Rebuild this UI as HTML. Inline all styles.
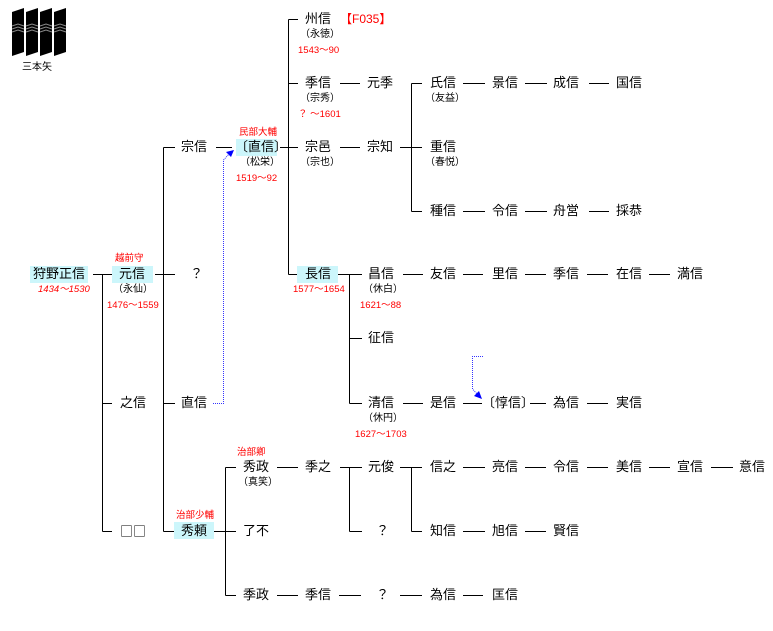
<!DOCTYPE html>
<html><head><meta charset="utf-8"><style>
body{margin:0;background:#fff;width:773px;height:631px;position:relative;overflow:hidden;font-family:"Liberation Sans","Noto Sans CJK JP",sans-serif;}
.t{position:absolute;font-size:13px;line-height:16px;color:#000;white-space:nowrap;}
.s{position:absolute;font-size:10px;line-height:12px;color:#000;white-space:nowrap;}
.r{position:absolute;font-size:9.5px;line-height:12px;color:#f00;white-space:nowrap;}
.h{position:absolute;background:#ccf6fb;}
svg{position:absolute;left:0;top:0;}
</style></head><body>
<div class="h" style="left:30px;top:266px;width:58px;height:17px"></div>
<div class="h" style="left:112px;top:266px;width:41px;height:17px"></div>
<div class="h" style="left:236px;top:139px;width:41px;height:17px"></div>
<div class="h" style="left:297px;top:266px;width:41px;height:17px"></div>
<div class="h" style="left:174px;top:522px;width:40px;height:17px"></div>
<svg width="773" height="631">
<g fill="#000">
<polygon points="12,12 24,8 24,52 12,56"/><polygon points="26,12 38,8 38,52 26,56"/><polygon points="40,12 52,8 52,52 40,56"/><polygon points="54,12 66,8 66,52 54,56"/>
</g>
<g stroke="#888" stroke-width="1" fill="none">
<polyline points="12,26 18,24 24,26"/><polyline points="12,29 18,27 24,29"/><polyline points="12,32 18,30 24,32"/>
<polyline points="26,26 32,24 38,26"/><polyline points="26,29 32,27 38,29"/><polyline points="26,32 32,30 38,32"/>
<polyline points="40,26 46,24 52,26"/><polyline points="40,29 46,27 52,29"/><polyline points="40,32 46,30 52,32"/>
<polyline points="54,26 60,24 66,26"/><polyline points="54,29 60,27 66,29"/><polyline points="54,32 60,30 66,32"/>
</g>
<g stroke="#000" stroke-width="1" fill="none" shape-rendering="crispEdges">
<path d="M93,274.5H112M102.5,274.5V531.5M102.5,403.5H112M102.5,531.5H112"/>
<path d="M155,274.5H175M163.5,147.5V531.5M163.5,147.5H175M163.5,403.5H175M163.5,531.5H174"/>
<path d="M216,147.5H232"/>
<path d="M280,147.5H298M288.5,19.5V274.5M288.5,19.5H298M288.5,83.5H298M288.5,274.5H297"/>
<path d="M340,83.5H360M340,147.5H360"/>
<path d="M400,147.5H422M411.5,83.5V211.5M411.5,83.5H422M411.5,211.5H422"/>
<path d="M463,83.5H485M525,83.5H547M589,83.5H609"/>
<path d="M463,211.5H485M525,211.5H547M589,211.5H609"/>
<path d="M338,274.5H362M349.5,274.5V403.5M349.5,338.5H362M349.5,403.5H362"/>
<path d="M403,274.5H423M463,274.5H483M525,274.5H546M587,274.5H608M649,274.5H670"/>
<path d="M403,403.5H423M463,403.5H482M530,403.5H546M587,403.5H608"/>
<path d="M214,531.5H236M225.5,467.5V595.5M225.5,467.5H236M225.5,595.5H236"/>
<path d="M277,467.5H298M340,467.5H349.5M349.5,467.5V531.5M349.5,467.5H362M349.5,531.5H362"/>
<path d="M400,467.5H411.5M411.5,467.5V531.5M411.5,467.5H422M411.5,531.5H422"/>
<path d="M463,467.5H485M525,467.5H546M587,467.5H608M649,467.5H670M711,467.5H733"/>
<path d="M463,531.5H485M525,531.5H546"/>
<path d="M277,595.5H298M339,595.5H361M400,595.5H422M463,595.5H483"/>
</g>
<g stroke="#33f" stroke-width="1" fill="none" stroke-dasharray="1,1">
<path d="M213,403.5H223.5V160L230,153"/>
<path d="M483,356.5H472.5V389L478,395"/>
</g>
<polygon points="234,150 226,152 231,157" fill="#00f"/>
<polygon points="482,399 474,396 479,391" fill="#00f"/>
</svg>
<div class="s" style="left:22px;top:62px">三本矢</div>
<div class="t" style="left:33px;top:266px">狩野正信</div>
<div class="r" style="left:38px;top:284px;font-style:italic">1434〜1530</div>
<div class="r" style="left:115px;top:253px">越前守</div>
<div class="t" style="left:119px;top:266px">元信</div>
<div class="s" style="left:113px;top:284px">（永仙）</div>
<div class="r" style="left:107px;top:300px">1476〜1559</div>
<div class="t" style="left:120px;top:395px">之信</div>
<div class="t" style="left:120px;top:523px;font-family:'Noto Sans CJK JP',sans-serif">□□</div>
<div class="t" style="left:181px;top:139px">宗信</div>
<div class="t" style="left:190px;top:266px">？</div>
<div class="t" style="left:181px;top:395px">直信</div>
<div class="r" style="left:176px;top:510px">治部少輔</div>
<div class="t" style="left:181px;top:523px">秀頼</div>
<div class="r" style="left:239px;top:127px">民部大輔</div>
<div class="t" style="left:235px;top:139px">〔直信〕</div>
<div class="s" style="left:240px;top:157px">（松栄）</div>
<div class="r" style="left:236px;top:173px">1519〜92</div>
<div class="t" style="left:305px;top:11px">州信</div>
<div class="r" style="left:340px;top:12px;font-size:12px;line-height:14px">【F035】</div>
<div class="s" style="left:300px;top:29px">（永徳）</div>
<div class="r" style="left:298px;top:45px">1543〜90</div>
<div class="t" style="left:305px;top:75px">季信</div>
<div class="s" style="left:300px;top:93px">（宗秀）</div>
<div class="r" style="left:298px;top:109px">？ 〜1601</div>
<div class="t" style="left:305px;top:139px">宗邑</div>
<div class="s" style="left:300px;top:157px">（宗也）</div>
<div class="t" style="left:305px;top:266px">長信</div>
<div class="r" style="left:293px;top:284px">1577〜1654</div>
<div class="t" style="left:367px;top:75px">元季</div>
<div class="t" style="left:367px;top:139px">宗知</div>
<div class="t" style="left:430px;top:75px">氏信</div>
<div class="s" style="left:425px;top:93px">（友益）</div>
<div class="t" style="left:430px;top:139px">重信</div>
<div class="s" style="left:425px;top:157px">（春悦）</div>
<div class="t" style="left:430px;top:203px">種信</div>
<div class="t" style="left:492px;top:75px">景信</div>
<div class="t" style="left:553px;top:75px">成信</div>
<div class="t" style="left:616px;top:75px">国信</div>
<div class="t" style="left:492px;top:203px">令信</div>
<div class="t" style="left:553px;top:203px">舟営</div>
<div class="t" style="left:616px;top:203px">採恭</div>
<div class="t" style="left:368px;top:266px">昌信</div>
<div class="s" style="left:363px;top:284px">（休白）</div>
<div class="r" style="left:360px;top:300px">1621〜88</div>
<div class="t" style="left:430px;top:266px">友信</div>
<div class="t" style="left:492px;top:266px">里信</div>
<div class="t" style="left:553px;top:266px">季信</div>
<div class="t" style="left:616px;top:266px">在信</div>
<div class="t" style="left:677px;top:266px">満信</div>
<div class="t" style="left:368px;top:330px">征信</div>
<div class="t" style="left:368px;top:395px">清信</div>
<div class="s" style="left:363px;top:413px">（休円）</div>
<div class="r" style="left:355px;top:429px">1627〜1703</div>
<div class="t" style="left:430px;top:395px">是信</div>
<div class="t" style="left:482px;top:395px">〔惇信〕</div>
<div class="t" style="left:553px;top:395px">為信</div>
<div class="t" style="left:616px;top:395px">実信</div>
<div class="r" style="left:237px;top:447px">治部卿</div>
<div class="t" style="left:243px;top:459px">秀政</div>
<div class="s" style="left:238px;top:477px">（真笑）</div>
<div class="t" style="left:243px;top:523px">了不</div>
<div class="t" style="left:243px;top:587px">季政</div>
<div class="t" style="left:305px;top:459px">季之</div>
<div class="t" style="left:368px;top:459px">元俊</div>
<div class="t" style="left:376px;top:523px">？</div>
<div class="t" style="left:430px;top:459px">信之</div>
<div class="t" style="left:430px;top:523px">知信</div>
<div class="t" style="left:492px;top:459px">亮信</div>
<div class="t" style="left:553px;top:459px">令信</div>
<div class="t" style="left:616px;top:459px">美信</div>
<div class="t" style="left:677px;top:459px">宣信</div>
<div class="t" style="left:739px;top:459px">意信</div>
<div class="t" style="left:492px;top:523px">旭信</div>
<div class="t" style="left:553px;top:523px">賢信</div>
<div class="t" style="left:305px;top:587px">季信</div>
<div class="t" style="left:376px;top:587px">？</div>
<div class="t" style="left:430px;top:587px">為信</div>
<div class="t" style="left:492px;top:587px">匡信</div>
</body></html>
